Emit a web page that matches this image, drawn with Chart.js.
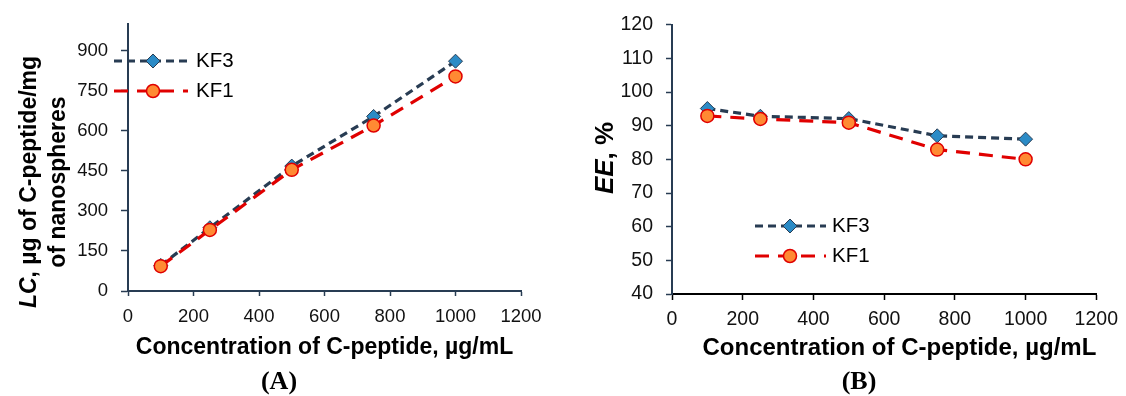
<!DOCTYPE html>
<html>
<head>
<meta charset="utf-8">
<script src="https://cdn.jsdelivr.net/npm/chart.js@4.4.1/dist/chart.umd.min.js"></script>
<style>
  html, body { margin: 0; padding: 0; background: #fff; }
  #wrap { position: relative; width: 1126px; height: 396px; overflow: hidden; }
  canvas { position: absolute; top: 0; }
  #chartA { left: 0; }
  #chartB { left: 560px; }
  .cap { position: absolute; top: 366px; font: bold 26px "Liberation Serif", "Times New Roman", serif; color: #000; transform: translateX(-50%); white-space: nowrap; }
</style>
</head>
<body>
<div id="wrap">
  <canvas id="chartA" width="560" height="396"></canvas>
  <canvas id="chartB" width="566" height="396"></canvas>
  <div class="cap" style="left:279px">(A)</div>
  <div class="cap" style="left:859px">(B)</div>
</div>
<script>
// data
const concentration = [100, 250, 500, 750, 1000];
const lcKF3 = [96, 237, 468, 654, 861];
const lcKF1 = [93, 229, 454, 620, 804];
const eeKF3 = [95.1, 92.8, 92.1, 87, 86];
const eeKF1 = [92.9, 92, 90.9, 82.9, 80];
const seriesNames = ['KF3', 'KF1'];
const xTitle = 'Concentration of C-peptide, µg/mL';
const lcTitle = [['LC', ', µg of C-peptide/mg'], ['', 'of nanospheres']];
const eeTitle = [['EE', ', %']];

const navy = '#283c53';
const sans = '"Liberation Sans", Arial, sans-serif';

function points(vals) {
  return concentration.map((x, i) => ({x: x, y: vals[i]}));
}

function makeDatasets(kf3, kf1) {
  return [{
    label: seriesNames[0],
    data: points(kf3),
    borderColor: navy,
    borderWidth: 3.2,
    borderDash: [8, 5],
    pointStyle: 'rectRot',
    pointRadius: 7,
    pointBackgroundColor: '#2b8bc6',
    pointBorderColor: navy,
    pointBorderWidth: 1,
    order: 2
  }, {
    label: seriesNames[1],
    data: points(kf1),
    borderColor: '#e00000',
    borderWidth: 3.2,
    borderDash: [14, 9],
    pointStyle: 'circle',
    pointRadius: 6.5,
    pointBackgroundColor: '#ff8a33',
    pointBorderColor: '#e00000',
    pointBorderWidth: 1.5,
    order: 1
  }];
}

// y title with an italic part + legend placed where the original has it
const overlay = {
  id: 'overlay',
  afterDraw(chart, args, opts) {
    const ctx = chart.ctx;
    ctx.save();
    ctx.fillStyle = '#000';
    ctx.textBaseline = 'alphabetic';
    opts.title.lines.forEach((parts, i) => {
      const fonts = ['italic bold ' + opts.title.size + 'px ' + sans, 'bold ' + opts.title.size + 'px ' + sans];
      ctx.save();
      ctx.translate(opts.title.x[i], opts.title.y);
      ctx.rotate(-Math.PI / 2);
      let w = 0;
      parts.forEach((t, k) => { ctx.font = fonts[k]; w += ctx.measureText(t).width; });
      let cx = -w / 2;
      parts.forEach((t, k) => { ctx.font = fonts[k]; ctx.fillText(t, cx, 0); cx += ctx.measureText(t).width; });
      ctx.restore();
    });

    const lg = opts.legend;
    chart.data.datasets.forEach((ds, i) => {
      const y = lg.ys[i];
      ctx.setLineDash(ds.borderDash);
      ctx.strokeStyle = ds.borderColor;
      ctx.lineWidth = ds.borderWidth;
      ctx.beginPath();
      ctx.moveTo(lg.x0, y);
      ctx.lineTo(lg.x1, y);
      ctx.stroke();
      ctx.setLineDash([]);
      ctx.fillStyle = ds.pointBackgroundColor;
      ctx.strokeStyle = ds.pointBorderColor;
      ctx.lineWidth = ds.pointBorderWidth;
      Chart.helpers.drawPoint(ctx, {pointStyle: ds.pointStyle, radius: ds.pointRadius, rotation: 0, borderWidth: ds.pointBorderWidth}, lg.mx, y);
      ctx.fillStyle = '#000';
      ctx.font = lg.size + 'px ' + sans;
      ctx.textBaseline = 'middle';
      ctx.fillText(ds.label, lg.tx, y);
    });
    ctx.restore();
  }
};

function axisOpts(o) {
  return {
    type: 'linear',
    min: o.min,
    max: o.max,
    border: {color: o.color, width: 2},
    grid: {drawOnChartArea: false, drawTicks: true, tickLength: o.tl, tickColor: o.color, tickWidth: 1.5},
    ticks: {stepSize: o.step, padding: o.pad, color: '#111', font: {family: sans, size: o.font},
      callback: v => String(v)},
    afterFit: o.fit,
    afterBuildTicks: o.filter
  };
}

new Chart(document.getElementById('chartA'), {
  type: 'line',
  data: {datasets: makeDatasets(lcKF3, lcKF1)},
  options: {
    responsive: false,
    animation: false,
    events: [],
    layout: {padding: {left: 0, right: 39, top: 17, bottom: 35}},
    plugins: {
      legend: {display: false},
      tooltip: {enabled: false},
      overlay: {
        title: {lines: lcTitle, x: [36, 65], y: 182, size: 23},
        legend: {x0: 114, x1: 188, mx: 153, tx: 196, ys: [61, 91], size: 20.5}
      }
    },
    scales: {
      x: Object.assign(axisOpts({min: 0, max: 1200, step: 200, color: navy, tl: 5, pad: 10, font: 18.5,
        fit: s => { s.height = 70; }}), {
        title: {display: true, text: xTitle, color: '#000', padding: 0, font: {family: sans, size: 23, weight: 'bold'}}
      }),
      y: axisOpts({min: 0, max: 1000, step: 150, color: navy, tl: 7, pad: 13, font: 18.5,
        fit: s => { s.width = 128; },
        filter: s => { s.ticks = s.ticks.filter(t => t.value <= 900); }})
    }
  },
  plugins: [overlay]
});

new Chart(document.getElementById('chartB'), {
  type: 'line',
  data: {datasets: makeDatasets(eeKF3, eeKF1)},
  options: {
    responsive: false,
    animation: false,
    events: [],
    layout: {padding: {left: 0, right: 24, top: 23, bottom: 33}},
    plugins: {
      legend: {display: false},
      tooltip: {enabled: false},
      overlay: {
        title: {lines: eeTitle, x: [53], y: 158, size: 26},
        legend: {x0: 195, x1: 266, mx: 230, tx: 272, ys: [226, 256], size: 20.5}
      }
    },
    scales: {
      x: Object.assign(axisOpts({min: 0, max: 1200, step: 200, color: '#000', tl: 6, pad: 8, font: 19.5,
        fit: s => { s.height = 69; }}), {
        title: {display: true, text: xTitle, color: '#000', align: 'end', padding: 0, font: {family: sans, size: 24, weight: 'bold'}}
      }),
      y: axisOpts({min: 40, max: 120, step: 10, color: navy, tl: 6, pad: 13, font: 19.5,
        fit: s => { s.width = 112; }})
    }
  },
  plugins: [overlay]
});
</script>
</body>
</html>
